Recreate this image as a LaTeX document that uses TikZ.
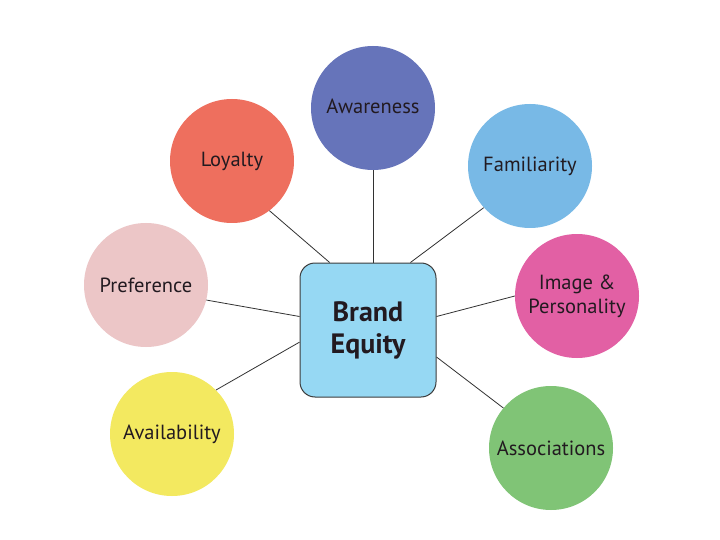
\documentclass[tikz,border=0pt]{standalone}
\usepackage{fontspec}
\setmainfont{PT Sans}
\usetikzlibrary{calc}
\definecolor{cAw}{RGB}{102,116,186}
\definecolor{cLoy}{RGB}{238,111,94}
\definecolor{cFam}{RGB}{120,185,230}
\definecolor{cPre}{RGB}{236,198,199}
\definecolor{cImg}{RGB}{226,96,164}
\definecolor{cAva}{RGB}{243,233,96}
\definecolor{cAss}{RGB}{128,196,118}
\definecolor{cBox}{RGB}{150,216,243}
\definecolor{boxline}{RGB}{60,60,60}
\definecolor{linec}{RGB}{50,50,50}
\definecolor{txt}{RGB}{34,26,32}
\begin{document}
\begin{tikzpicture}[x=1pt,y=-1pt,
  bubble/.style={circle,minimum size=124pt,inner sep=0pt,align=center,
    font=\fontsize{20.5}{24}\selectfont,text=txt},
  link/.style={draw=linec,line width=0.8pt}]
\useasboundingbox (0,0) rectangle (720,540);
\fill[white] (0,0) rectangle (720,540);
\node[draw=boxline,fill=cBox,rounded corners=15pt,minimum width=136pt,
  minimum height=134pt,line width=1pt,text=txt,align=center,
  font=\bfseries\fontsize{28}{32}\selectfont] (be) at (368,330) {Brand\\Equity};
\node[bubble,fill=cAw] (aw) at (373,108) {\raisebox{4pt}{Awareness}};
\node[bubble,fill=cLoy] (loy) at (232,161) {Loyalty};
\node[bubble,fill=cFam] (fam) at (530,166) {Familiarity};
\node[bubble,fill=cPre] (pre) at (146,285) {Preference};
\node[bubble,fill=cImg] (img) at (577,296) {Image \&\\Personality};
\node[bubble,fill=cAva] (ava) at (172,434) {Availability};
\node[bubble,fill=cAss] (ass) at (551,448) {Associations};
\draw[link] ($(be.north west)!0.22!(be.north east)$) -- (loy.-53);
\draw[link] (be.north -| aw.south) -- (aw.south);
\draw[link] ($(be.north west)!0.81!(be.north east)$) -- (fam.-138);
\draw[link] ($(be.north west)!0.40!(be.south west)$) -- (pre.-14);
\draw[link] ($(be.north west)!0.59!(be.south west)$) -- (ava.45);
\draw[link] ($(be.north east)!0.40!(be.south east)$) -- (img.180);
\draw[link] ($(be.north east)!0.70!(be.south east)$) -- (ass.140);
\end{tikzpicture}
\end{document}
